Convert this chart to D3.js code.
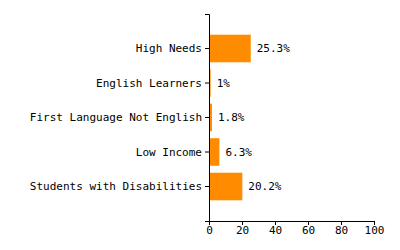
<!DOCTYPE html>
<html><head><meta charset="utf-8">
<script src="https://cdn.jsdelivr.net/npm/d3@7"></script>
<style>body{margin:0;background:#fff}svg{display:block}text{font-family:"DejaVu Sans Mono",monospace;font-size:11px;fill:#000}</style>
</head><body><svg id="c" width="400" height="250"></svg>
<script>
const categories = ["High Needs","English Learners","First Language Not English","Low Income","Students with Disabilities"];
const values = [25.3, 1, 1.8, 6.3, 20.2];
const valueLabels = ["25.3%","1%","1.8%","6.3%","20.2%"];
const xTicks = [0,20,40,60,80,100];

(function(){
const svg = d3.select("#c");
const mLeft = 209, mRight = 374, mTop = 14, mBottom = 221;
const x = d3.scaleLinear().domain([0,100]).range([mLeft, mRight]);
const y = d3.scaleBand().domain(categories).range([mTop, mBottom]).paddingInner(0.2).paddingOuter(0.6);

svg.selectAll("rect.bar").data(categories).enter().append("rect")
  .attr("class","bar")
  .attr("x", x(0)).attr("y", d => y(d))
  .attr("width", (d,i) => x(values[i]) - x(0))
  .attr("height", y.bandwidth())
  .attr("fill", "#ff8c00");

svg.selectAll("text.val").data(categories).enter().append("text")
  .attr("class","val")
  .attr("x", (d,i) => x(values[i]) + 6)
  .attr("y", d => y(d) + y.bandwidth()/2)
  .attr("dy","0.35em")
  .text((d,i) => valueLabels[i]);

svg.append("g").attr("transform", `translate(${mLeft},0)`)
  .call(d3.axisLeft(y).tickSize(4).tickSizeOuter(4).tickPadding(3));
svg.append("g").attr("transform", `translate(0,${mBottom})`)
  .call(d3.axisBottom(x).tickValues(xTicks).tickSize(4).tickSizeOuter(4).tickPadding(1));
svg.selectAll(".domain, .tick line").attr("stroke","#000");
svg.selectAll(".tick text").attr("font-family",null).attr("font-size",null).attr("fill","#000");
})();
</script></body></html>
